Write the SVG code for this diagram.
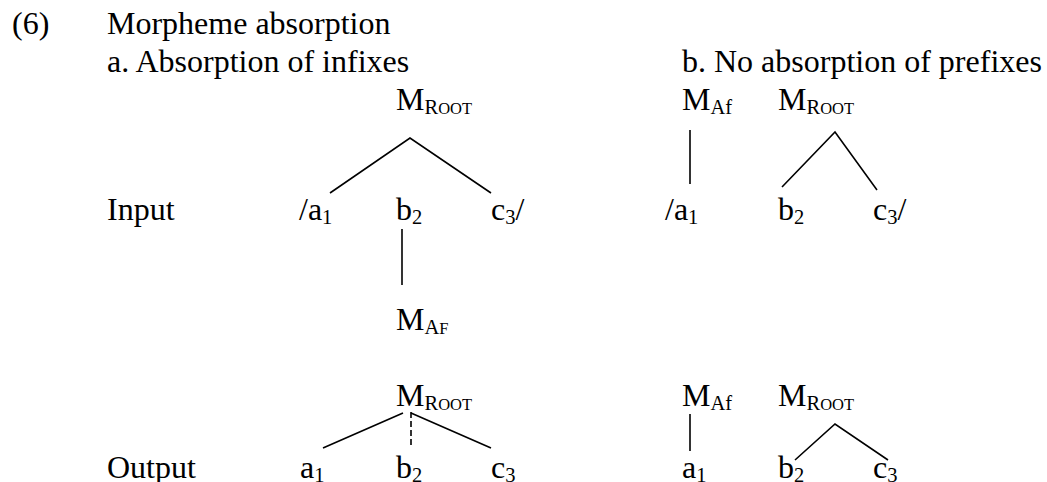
<svg xmlns="http://www.w3.org/2000/svg" width="1047" height="482" viewBox="0 0 1047 482">
<style>
text{font-family:"Liberation Serif","Times New Roman",serif;font-size:32px;fill:#000}
.s{font-size:20.5px}
.sc{font-size:16.5px}
.e{stroke:#000;stroke-width:1.6;fill:none}
.d{stroke-dasharray:6,3}
</style>
<rect width="1047" height="482" fill="#fff"/>
<g id="headings">
<text x="12" y="34">(6)</text>
<text x="107" y="34">Morpheme absorption</text>
<text x="107" y="72">a. Absorption of infixes</text>
<text x="682" y="72">b. No absorption of prefixes</text>
<text x="107" y="220">Input</text>
<text x="107" y="478">Output</text>
</g>
<g id="a-input-mroot"><text x="396" y="110">M<tspan class="s" dy="4">R</tspan><tspan class="sc">OOT</tspan></text></g>
<g id="a-input-a1"><text x="299" y="220">/a<tspan class="s" dy="4">1</tspan></text></g>
<g id="a-input-b2"><text x="396" y="220">b<tspan class="s" dy="4">2</tspan></text></g>
<g id="a-input-c3"><text x="491" y="220">c<tspan class="s" dy="4">3</tspan><tspan dy="-4">/</tspan></text></g>
<g id="a-input-maf"><text x="396" y="330">M<tspan class="s" dy="4">A</tspan><tspan class="sc">F</tspan></text></g>
<g id="a-output-mroot"><text x="396" y="406">M<tspan class="s" dy="4">R</tspan><tspan class="sc">OOT</tspan></text></g>
<g id="a-output-a1"><text x="300" y="478">a<tspan class="s" dy="4">1</tspan></text></g>
<g id="a-output-b2"><text x="396" y="478">b<tspan class="s" dy="4">2</tspan></text></g>
<g id="a-output-c3"><text x="491" y="478">c<tspan class="s" dy="4">3</tspan></text></g>
<g id="b-input-maf"><text x="682" y="110">M<tspan class="s" dy="4">Af</tspan></text></g>
<g id="b-input-mroot"><text x="778" y="110">M<tspan class="s" dy="4">R</tspan><tspan class="sc">OOT</tspan></text></g>
<g id="b-input-a1"><text x="665" y="220">/a<tspan class="s" dy="4">1</tspan></text></g>
<g id="b-input-b2"><text x="778" y="220">b<tspan class="s" dy="4">2</tspan></text></g>
<g id="b-input-c3"><text x="873" y="220">c<tspan class="s" dy="4">3</tspan><tspan dy="-4">/</tspan></text></g>
<g id="b-output-maf"><text x="682" y="406">M<tspan class="s" dy="4">Af</tspan></text></g>
<g id="b-output-mroot"><text x="778" y="406">M<tspan class="s" dy="4">R</tspan><tspan class="sc">OOT</tspan></text></g>
<g id="b-output-a1"><text x="682" y="478">a<tspan class="s" dy="4">1</tspan></text></g>
<g id="b-output-b2"><text x="778" y="478">b<tspan class="s" dy="4">2</tspan></text></g>
<g id="b-output-c3"><text x="873" y="478">c<tspan class="s" dy="4">3</tspan></text></g>
<g id="connectors">
<path class="e" d="M330,193 L410,138 L491,193"/>
<line class="e" x1="402" y1="229" x2="402" y2="285"/>
<path class="e" d="M323,448 L403,413 M411,413 L491,448"/>
<line class="e d" x1="411" y1="412" x2="411" y2="447"/>
<line class="e" x1="690" y1="130" x2="690" y2="184"/>
<path class="e" d="M782,187 L835,132 L877,190"/>
<line class="e" x1="690" y1="414" x2="690" y2="451"/>
<path class="e" d="M795,460 L835,424 L888,460"/>
</g>
</svg>
